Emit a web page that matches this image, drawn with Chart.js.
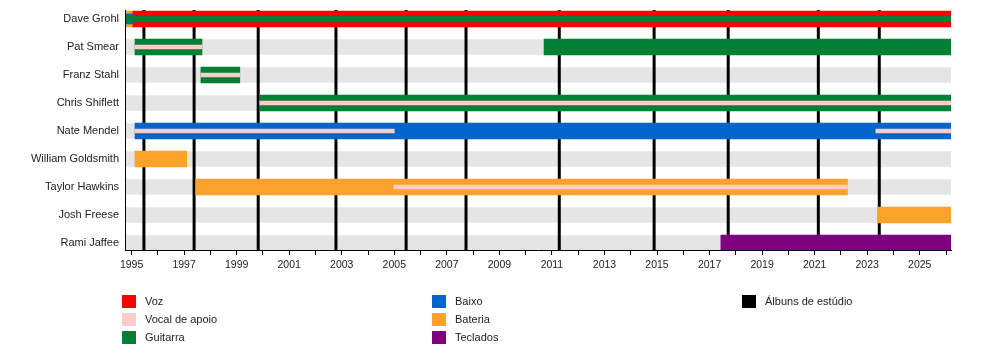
<!DOCTYPE html>
<html>
<head>
<meta charset="utf-8">
<script src="https://cdn.jsdelivr.net/npm/chart.js@4.4.1/dist/chart.umd.min.js"></script>
<style>
  body { margin: 0; background: #fff; }
  #wrap { position: relative; width: 1000px; height: 360px; }
  #legend {
    position: absolute; left: 122px; top: 292px;
    display: grid; grid-auto-flow: column;
    grid-template-rows: repeat(3, 18px);
    grid-template-columns: repeat(3, 310px);
    font: 11px "Liberation Sans", Arial, sans-serif; color: #222;
  }
  .item { display: flex; align-items: center; }
  .sw { width: 14px; height: 13px; margin-right: 9px; }
</style>
</head>
<body>
<div id="wrap">
  <canvas id="myChart"></canvas>
  <div id="legend"></div>
</div>
<script>
// rows of the timeline, top to bottom
var members = ['Dave Grohl', 'Pat Smear', 'Franz Stahl', 'Chris Shiflett', 'Nate Mendel',
  'William Goldsmith', 'Taylor Hawkins', 'Josh Freese', 'Rami Jaffee'];

var startYear = 1994.75;
var endYear = 2026.19;

// studio albums (decimal years)
var albums = [1995.47, 1997.38, 1999.82, 2002.78, 2005.45, 2007.73, 2011.28, 2014.89, 2017.71, 2021.14, 2023.46];

// spans: [row, from, to]
var voz = [[0, 1995.05, endYear]];
var vocalApoio = [[1, 1995.13, 1997.68], [2, 1997.64, 1999.12], [3, 1999.88, endYear],
  [4, 1995.13, 2005.0], [4, 2023.33, endYear], [6, 2004.98, 2022.25]];
var guitarra = [[1, 1995.13, 1997.68], [1, 2010.7, endYear], [2, 1997.64, 1999.12], [3, 1999.88, endYear]];
var guitarraGrohl = [[0, startYear, endYear]];
var baixo = [[4, 1995.13, endYear]];
var baixoGrohl = [[0, startYear, 1995.05]];
var bateria = [[0, startYear, 1995.05], [5, 1995.13, 1997.1], [6, 1997.44, 2022.25], [7, 2023.4, endYear]];
var teclados = [[8, 2017.43, endYear]];

var legendLabels = ['Voz', 'Vocal de apoio', 'Guitarra', 'Baixo', 'Bateria', 'Teclados', 'Álbuns de estúdio'];
var legendColors = ['#ff0000', '#ffcccc', '#008033', '#0066cc', '#ffa22b', '#7f007f', '#000000'];

function spans(list) {
  return list.map(function (s) { return { x: [s[1], s[2]], y: s[0] }; });
}
function bars(label, list, color, thick, order) {
  return {
    label: label, data: spans(list), backgroundColor: color,
    barThickness: thick, grouped: false, borderWidth: 0, borderSkipped: false, order: order
  };
}

var background = members.map(function (m, i) { return [i, startYear, endYear]; });

var datasets = [
  bars('fundo', background, '#e5e5e5', 15, 100),
  bars('Voz', voz, '#ff0000', 16, 10),
  bars('Guitarra', guitarra, '#008033', 16, 10),
  bars('Baixo', baixo, '#0066cc', 16, 10),
  bars('Bateria', bateria, '#ffa22b', 16, 10),
  bars('Teclados', teclados, '#7f007f', 16, 10),
  bars('Baixo', baixoGrohl, '#0066cc', 10, 5),
  bars('Guitarra', guitarraGrohl, '#008033', 6, 4),
  bars('Vocal de apoio', vocalApoio, '#ffcccc', 4, 1)
];

// album lines sit on the grey rows but under the coloured bars
var albumLines = {
  id: 'albumLines',
  afterDatasetDraw: function (chart, args) {
    if (args.index !== 0) return;
    var ctx = chart.ctx, area = chart.chartArea, x = chart.scales.x;
    ctx.save();
    ctx.strokeStyle = '#000';
    ctx.lineWidth = 3;
    albums.forEach(function (a) {
      var px = x.getPixelForValue(a);
      ctx.beginPath();
      ctx.moveTo(px, area.top);
      ctx.lineTo(px, area.bottom);
      ctx.stroke();
    });
    ctx.restore();
  }
};

var ctx = document.getElementById('myChart').getContext('2d');
var chart = new Chart(ctx, {
  type: 'bar',
  data: { datasets: datasets },
  plugins: [albumLines],
  options: {
    indexAxis: 'y',
    responsive: true,
    maintainAspectRatio: false,
    animation: false,
    layout: { padding: { top: 10, right: 49, bottom: 80, left: 0 } },
    plugins: { legend: { display: false }, tooltip: { enabled: false } },
    scales: {
      x: {
        type: 'linear', min: startYear, max: endYear, beginAtZero: false,
        afterFit: function (s) { s.height = 30; s.paddingLeft = 0; s.paddingRight = 0; },
        grid: { drawOnChartArea: false, tickLength: 5, color: '#000' },
        border: { color: '#000', width: 1, z: 1 },
        ticks: {
          stepSize: 1, includeBounds: false, autoSkip: false, maxRotation: 0, padding: 4,
          color: '#222', font: { family: 'Liberation Sans', size: 10.5 },
          callback: function (v) { return v % 2 === 1 ? String(v) : ''; }
        }
      },
      y: {
        type: 'linear', reverse: true, min: -0.32, max: 8.25, offset: false,
        afterFit: function (s) { s.width = 125; s.paddingTop = 0; s.paddingBottom = 0; },
        grid: { display: false, drawTicks: false },
        border: { display: true, color: '#000', width: 1, z: 1 },
        ticks: {
          stepSize: 1, includeBounds: false, autoSkip: false, padding: 6,
          color: '#222', font: { family: 'Liberation Sans', size: 11 },
          callback: function (v) { return members[v] || ''; }
        }
      }
    }
  }
});

var legend = document.getElementById('legend');
legendLabels.forEach(function (l, i) {
  var item = document.createElement('div');
  item.className = 'item';
  item.innerHTML = '<span class="sw" style="background:' + legendColors[i] + '"></span><span>' + l + '</span>';
  legend.appendChild(item);
});
</script>
</body>
</html>
